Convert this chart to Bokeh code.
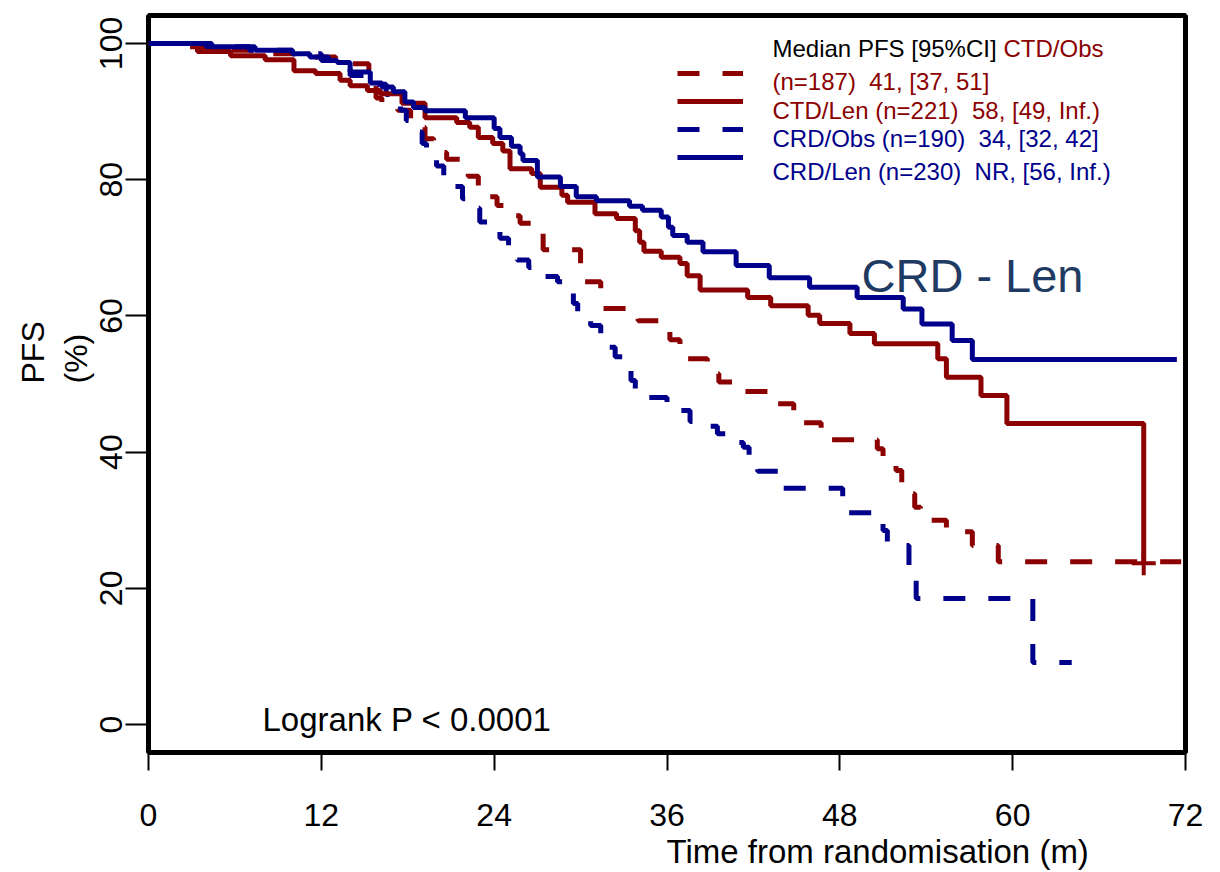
from bokeh.plotting import figure
from bokeh.models import Range1d, FixedTicker, Label, Legend, LegendItem, Title
from bokeh.embed import file_html
from bokeh.resources import INLINE

# ---------------- data ----------------
x_ticks = [0, 12, 24, 36, 48, 60, 72]
y_ticks = [0, 20, 40, 60, 80, 100]

# CTD/Obs (dashed dark red)
ctd_obs_t = [0, 2.5, 5.0, 8.0, 11.0, 13.0, 14.0, 15.3, 15.8, 16.2, 17.3, 18.2, 18.8,
             19.2, 19.8, 20.7, 21.8, 22.2, 22.9, 23.5, 24.2, 25.0, 25.8, 26.7, 27.4,
             30.0, 31.4, 34.0, 36.2, 36.9, 38.8, 39.6, 41.2, 43.2, 43.7, 44.8, 45.1,
             46.7, 46.9, 50.6, 51.0, 51.9, 52.3, 52.6, 53.2, 53.6, 55.4, 57.2, 59.0, 71.7]
ctd_obs_s = [100, 99.5, 99.0, 98.5, 98.0, 97.5, 97.0, 95.0, 92.0, 91.0, 90.2, 89.0, 87.7,
             86.0, 84.0, 83.0, 82.0, 80.5, 79.0, 77.5, 76.2, 74.7, 73.6, 72.5, 69.7,
             65.0, 61.1, 59.3, 56.5, 53.7, 51.5, 50.3, 48.9, 48.0, 47.1, 46.0, 44.3,
             43.0, 41.8, 40.5, 38.8, 37.3, 35.5, 33.9, 31.9, 30.0, 28.3, 26.3, 23.9, 23.9]

# CTD/Len (solid dark red)
ctd_len_t = [0, 3.4, 5.7, 8.1, 10.1, 11.6, 13.3, 14.0, 15.2, 16.1, 17.6, 19.2, 21.4, 22.3,
             22.9, 23.9, 24.6, 25.1, 26.6, 27.2, 28.7, 29.1, 31.0, 32.5, 33.8, 34.1, 34.4,
             35.6, 36.9, 37.4, 38.3, 41.6, 43.2, 45.8, 46.6, 48.7, 50.4, 54.8, 55.4, 57.8,
             59.6, 69.1]
ctd_len_s = [100, 98.8, 98.2, 97.6, 96.0, 95.6, 94.6, 93.8, 93.1, 92.6, 91.2, 89.1, 88.4, 87.7,
             86.2, 85.3, 84.2, 81.6, 80.9, 78.9, 77.7, 76.7, 75.0, 74.3, 72.5, 70.8, 69.5,
             68.6, 67.7, 65.9, 63.8, 62.7, 61.5, 60.1, 58.9, 57.4, 55.9, 53.7, 51.0, 48.3,
             44.2, 23.7]

# CRD/Obs (dashed dark blue)
crd_obs_t = [0, 4.0, 7.0, 10.0, 12.0, 13.3, 14.0, 15.5, 16.5, 17.0, 17.5, 17.9, 18.5, 19.0,
             19.3, 20.0, 20.5, 21.3, 21.8, 22.5, 23.0, 23.8, 24.4, 25.0, 25.6, 26.4, 27.0,
             28.4, 29.0, 29.5, 29.8, 30.7, 31.4, 31.9, 32.4, 33.1, 33.5, 33.8, 36.0, 36.7,
             37.6, 38.4, 39.5, 40.1, 41.3, 41.7, 42.3, 43.9, 48.2, 50.5, 51.0, 51.3, 52.8,
             53.3, 61.4, 64.1]
crd_obs_s = [100, 99.5, 99.0, 98.5, 97.5, 96.3, 95.3, 94.0, 92.5, 91.2, 90.2, 88.7, 87.0, 85.3,
             83.5, 82.0, 80.4, 79.0, 77.2, 75.8, 73.8, 72.7, 71.4, 70.0, 68.2, 67.1, 65.8,
             65.0, 63.7, 61.8, 59.8, 58.6, 57.4, 55.4, 54.0, 52.3, 50.5, 48.0, 47.3, 46.1,
             44.5, 43.8, 42.7, 41.4, 40.7, 38.5, 37.2, 34.7, 31.1, 30.2, 28.5, 26.3, 21.5,
             18.5, 9.1, 9.1]

# CRD/Len (solid dark blue)
crd_len_t = [0, 4.4, 7.4, 10.0, 11.2, 12.5, 13.1, 14.0, 15.4, 16.2, 17.0, 17.8, 18.4, 19.2,
             22.0, 24.0, 24.4, 25.2, 25.8, 26.0, 27.0, 28.6, 29.7, 31.1, 33.4, 34.3, 35.6,
             36.1, 36.4, 37.4, 38.5, 40.8, 43.1, 45.9, 49.2, 52.4, 53.7, 55.8, 57.2, 71.4]
crd_len_s = [100, 99.5, 99.0, 98.5, 98.0, 97.5, 97.2, 95.8, 94.2, 93.6, 92.9, 91.4, 90.6, 90.1,
             89.1, 87.5, 86.2, 84.9, 83.8, 82.8, 80.4, 79.0, 77.5, 76.9, 76.1, 75.5, 74.5,
             73.0, 71.8, 70.8, 69.4, 67.4, 65.6, 64.2, 62.7, 61.0, 58.8, 56.4, 53.6, 53.6]

NB = "\u00a0"
legend_lines = [
    [("Median PFS [95%CI] ", "black"), ("CTD/Obs", "darkred")],
    [("(n=187) " + NB + "41, [37, 51]", "darkred")],
    [("CTD/Len (n=221) " + NB + "58, [49, Inf.)", "darkred")],
    [("CRD/Obs (n=190) " + NB + "34, [32, 42]", "darkblue")],
    [("CRD/Len (n=230) " + NB + "NR, [56, Inf.)", "darkblue")],
]

# ---------------- styling / layout ----------------
RED = "#8B0000"
BLUE = "#00008B"
COLORS = {"black": "black", "darkred": RED, "darkblue": BLUE}
FONT = "Liberation Sans"
DASH = "22 23"
W, H = 1220, 872
FL, FT, FR, FB = 148, 15, 35, 120
FW, FH = W - FL - FR, H - FT - FB
X0, X1 = 0, 72
Y0, Y1 = -4.1, 104.1


def dx(px):
    return X0 + (px - FL) / FW * (X1 - X0)


def dy(py):
    return Y1 - (py - FT) / FH * (Y1 - Y0)


p = figure(width=W, height=H, output_backend="svg", toolbar_location=None,
           x_range=Range1d(X0, X1), y_range=Range1d(Y0, Y1),
           min_border_left=FL, min_border_right=FR, min_border_top=FT, min_border_bottom=FB)
p.xgrid.visible = False
p.ygrid.visible = False
p.outline_line_color = "black"
p.outline_line_width = 5
p.background_fill_color = "white"
p.border_fill_color = "white"

for ax in (p.xaxis[0], p.yaxis[0]):
    ax.axis_line_color = None
    ax.major_tick_in = 0
    ax.minor_tick_line_color = None
    ax.major_tick_line_width = 2
    ax.major_tick_line_color = "black"
    ax.major_label_text_font = FONT
    ax.major_label_text_font_size = "32px"
    ax.major_label_text_color = "black"

p.xaxis.ticker = FixedTicker(ticks=x_ticks)
p.xaxis.major_tick_out = 18
p.xaxis.major_label_standoff = 33
p.yaxis.ticker = FixedTicker(ticks=y_ticks)
p.yaxis.major_tick_out = 23
p.yaxis.major_label_orientation = "vertical"
p.yaxis.major_label_standoff = 3

r_co = p.step(ctd_obs_t, ctd_obs_s, mode="after", line_color=RED, line_width=5, line_dash=DASH)
r_cdo = p.step(crd_obs_t, crd_obs_s, mode="after", line_color=BLUE, line_width=5, line_dash=DASH)
r_cl = p.step(ctd_len_t, ctd_len_s, mode="after", line_color=RED, line_width=5)
r_cdl = p.step(crd_len_t, crd_len_s, mode="after", line_color=BLUE, line_width=5)
p.scatter([ctd_len_t[-1]], [ctd_len_s[-1]], marker="cross", size=24,
          line_color=RED, line_width=4)

legend = Legend(items=[LegendItem(label=" ", renderers=[r]) for r in (r_co, r_cl, r_cdo, r_cdl)],
                location=(677 - FL, (FT + FH) - (59 + 4 * 28)),
                orientation="vertical", glyph_width=66, glyph_height=28, label_height=28,
                label_width=1, label_standoff=0, spacing=0, padding=0, margin=0,
                border_line_color=None, background_fill_alpha=0,
                label_text_font_size="10px")
p.add_layout(legend)

# text anchors given at the vertical centre of the capital letters
centres = [48, 80.5, 109.5, 137.5, 171]
for line, cy in zip(legend_lines, centres):
    x = 772
    for txt, col in line:
        p.add_layout(Label(x=dx(x), y=dy(cy), text=txt, text_color=COLORS[col],
                           text_font=FONT, text_font_size="24px",
                           text_baseline="alphabetic", text_align="left"))
        x = 1003

p.add_layout(Label(x=dx(861), y=dy(275), text="CRD - Len", text_color="#1F3A63",
                   text_font=FONT, text_font_size="47px", text_baseline="alphabetic"))
p.add_layout(Label(x=dx(262), y=dy(719), text="Logrank P < 0.0001", text_color="black",
                   text_font=FONT, text_font_size="33px", text_baseline="alphabetic"))

# axis titles (outside the frame)
p.add_layout(Title(text="Time from randomisation (m)", align="left", offset=666 - FL,
                   text_font=FONT, text_font_size="33px", text_font_style="normal",
                   text_color="black", standoff=5), "below")
p.add_layout(Title(text="(%)", align="left", offset=(FT + FH) - 383, text_font=FONT,
                   text_font_size="32px", text_font_style="normal", text_color="black",
                   standoff=8), "left")
p.add_layout(Title(text="PFS", align="left", offset=(FT + FH) - 383, text_font=FONT,
                   text_font_size="32px", text_font_style="normal", text_color="black",
                   standoff=2), "left")

open("out.html", "w").write(file_html(p, INLINE))
